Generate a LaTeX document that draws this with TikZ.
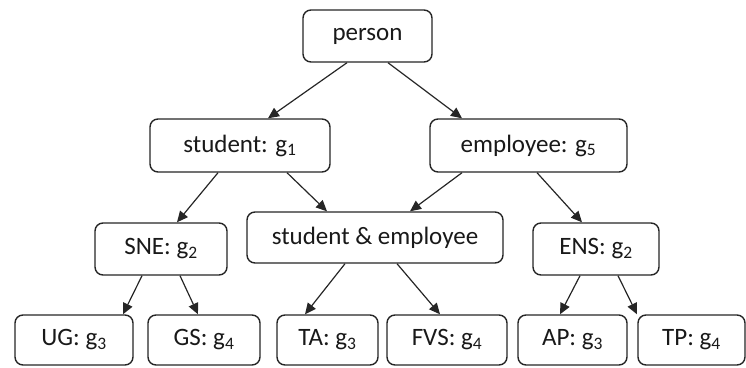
\documentclass[tikz,border=0pt]{standalone}
\usepackage{fontspec}
\setmainfont{Carlito}
\usetikzlibrary{arrows.meta}
\tikzset{
  box/.style={draw=black!85, line width=1.4pt, rounded corners=8pt, fill=white,
    inner sep=0pt, font=\fontsize{25}{28}\selectfont, text=black!90},
  link/.style={draw=black!85, line width=1.2pt, -{Triangle[length=11pt,width=10pt]}}
}
\newcommand{\gs}[1]{g\textsubscript{#1}}
\begin{document}
\begin{tikzpicture}[x=1pt,y=-1pt]
\useasboundingbox (0,0) rectangle (746,367);
% boxes: top row
\node[box, minimum width=129pt, minimum height=52pt] (person) at (367.5,36) {person};
\node[box, minimum width=180pt, minimum height=53pt] (student) at (240,145.5) {student: \gs{1}};
\node[box, minimum width=197pt, minimum height=53pt] (employee) at (528.5,145.5) {employee: \gs{5}};
% middle row
\node[box, minimum width=132pt, minimum height=52pt] (sne) at (161,249) {SNE: \gs{2}};
\node[box, minimum width=256pt, minimum height=51pt] (both) at (375,237.5) {student \& employee};
\node[box, minimum width=126pt, minimum height=52pt] (ens) at (596,249) {ENS: \gs{2}};
% leaves
\node[box, minimum width=118pt, minimum height=50pt] (ug) at (74,340) {UG: \gs{3}};
\node[box, minimum width=112pt, minimum height=50pt] (gs) at (204,340) {GS: \gs{4}};
\node[box, minimum width=101pt, minimum height=50pt] (ta) at (327.5,340) {TA: \gs{3}};
\node[box, minimum width=120pt, minimum height=50pt] (fvs) at (447,340) {FVS: \gs{4}};
\node[box, minimum width=109pt, minimum height=50pt] (ap) at (572.5,340) {AP: \gs{3}};
\node[box, minimum width=107pt, minimum height=50pt] (tp) at (691.5,340) {TP: \gs{4}};
% connectors
\draw[link] ([xshift=-20.5pt]person.south) -- ([xshift=28pt]student.north);
\draw[link] ([xshift=20.5pt]person.south) -- ([xshift=-66.5pt]employee.north);
\draw[link] ([xshift=-22pt]student.south) -- ([xshift=16pt]sne.north);
\draw[link] ([xshift=47pt]student.south) -- ([xshift=-48pt]both.north);
\draw[link] ([xshift=-66.5pt]employee.south) -- ([xshift=35pt]both.north);
\draw[link] ([xshift=8.5pt]employee.south) -- ([xshift=-14pt]ens.north);
\draw[link] ([xshift=-19pt]sne.south) -- ([xshift=49pt]ug.north);
\draw[link] ([xshift=19pt]sne.south) -- ([xshift=-6pt]gs.north);
\draw[link] ([xshift=-30pt]both.south) -- ([xshift=-22.5pt]ta.north);
\draw[link] ([xshift=22pt]both.south) -- ([xshift=-7pt]fvs.north);
\draw[link] ([xshift=-16pt]ens.south) -- ([xshift=-12.5pt]ap.north);
\draw[link] ([xshift=22pt]ens.south) -- ([xshift=-54.5pt]tp.north);
\end{tikzpicture}
\end{document}
